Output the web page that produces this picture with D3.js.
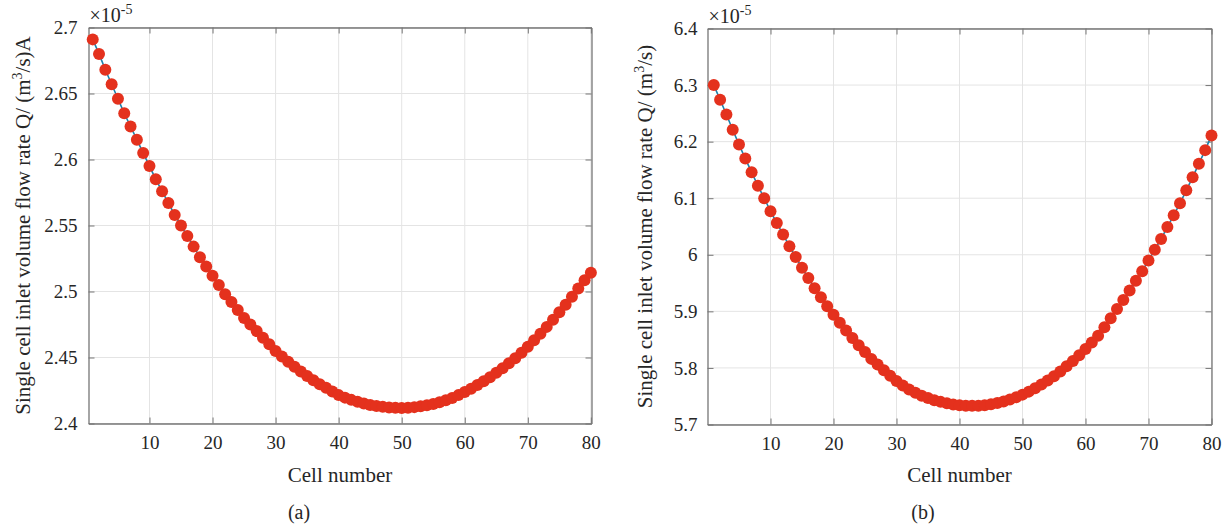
<!DOCTYPE html>
<html>
<head>
<meta charset="utf-8">
<script src="https://cdn.jsdelivr.net/npm/d3@7"></script>
<style>
  body { margin: 0; background: #fff; }
  svg { display: block; font-family: "Liberation Serif", "DejaVu Serif", serif; }
</style>
</head>
<body>
<div id="chart"></div>
<script>
// cell numbers 1..80
var cells = d3.range(1, 81);

// flow rate, units of 1e-5 m^3/s
var flowA = [2.691, 2.680, 2.668, 2.657, 2.646, 2.635, 2.625, 2.615, 2.605, 2.595,
  2.585, 2.576, 2.567, 2.558, 2.550, 2.542, 2.534, 2.526, 2.519, 2.512,
  2.505, 2.498, 2.492, 2.486, 2.480, 2.475, 2.470, 2.465, 2.460, 2.455,
  2.4508, 2.4468, 2.4430, 2.4394, 2.4360, 2.4328, 2.4298, 2.4270, 2.4242, 2.4215,
  2.4196, 2.4179, 2.4164, 2.4151, 2.4140, 2.4132, 2.4126, 2.4121, 2.4119, 2.4118,
  2.4120, 2.4124, 2.4130, 2.4138, 2.4148, 2.4161, 2.4176, 2.4194, 2.4215, 2.4239,
  2.4264, 2.4291, 2.4320, 2.4351, 2.4384, 2.4419, 2.4456, 2.4495, 2.4536, 2.4582,
  2.4630, 2.4680, 2.4732, 2.4786, 2.4842, 2.4900, 2.4960, 2.5022, 2.5086, 2.5142];

var flowB = [6.300, 6.274, 6.248, 6.221, 6.195, 6.170, 6.146, 6.122, 6.100, 6.077,
  6.056, 6.036, 6.015, 5.996, 5.977, 5.959, 5.941, 5.925, 5.909, 5.894,
  5.880, 5.866, 5.853, 5.840, 5.828, 5.816, 5.806, 5.796, 5.786, 5.777,
  5.769, 5.762, 5.756, 5.751, 5.747, 5.743, 5.740, 5.7375, 5.7355, 5.734,
  5.7333, 5.733, 5.7333, 5.7342, 5.7358, 5.738, 5.7408, 5.7442, 5.7482, 5.7528,
  5.7581, 5.764, 5.7705, 5.7776, 5.7854, 5.7938, 5.8028, 5.8124, 5.8226, 5.8334,
  5.8449, 5.857, 5.872, 5.888, 5.904, 5.920, 5.937, 5.954, 5.971, 5.990,
  6.009, 6.028, 6.049, 6.070, 6.091, 6.114, 6.137, 6.161, 6.185, 6.211];

var xTicks = [10, 20, 30, 40, 50, 60, 70, 80];
var yTicksA = [2.4, 2.45, 2.5, 2.55, 2.6, 2.65, 2.7];
var yTicksB = [5.7, 5.8, 5.9, 6, 6.1, 6.2, 6.3, 6.4];

var axisColor = '#767676';
var gridColor = '#e4e4e4';
var lineColor = '#1b82ad';
var markerColor = '#e4311d';

var svg = d3.select('#chart')
.append('svg')
.attr('width', 1231)
.attr('height', 532);

function panel(o) {
  var x = d3.scaleLinear().domain(o.xDomain).range([o.left, o.right]);
  var y = d3.scaleLinear().domain(o.yDomain).range([o.bottom, o.top]);
  var g = svg.append('g');

  // grid
  g.selectAll('line.vg')
  .data(xTicks)
  .enter()
  .append('line')
  .attr('x1', function(d) { return x(d); })
  .attr('x2', function(d) { return x(d); })
  .attr('y1', o.top)
  .attr('y2', o.bottom)
  .attr('stroke', gridColor);

  g.selectAll('line.hg')
  .data(o.yTicks)
  .enter()
  .append('line')
  .attr('x1', o.left)
  .attr('x2', o.right)
  .attr('y1', function(d) { return y(d); })
  .attr('y2', function(d) { return y(d); })
  .attr('stroke', gridColor);

  var bottom = g.append('g')
  .attr('transform', 'translate(0,' + o.bottom + ')')
  .call(d3.axisBottom(x).tickValues(xTicks).tickSizeInner(-6).tickSizeOuter(0).tickPadding(12));

  var top = g.append('g')
  .attr('transform', 'translate(0,' + o.top + ')')
  .call(d3.axisTop(x).tickValues(xTicks).tickSizeInner(-6).tickSizeOuter(0).tickFormat(''));

  var left = g.append('g')
  .attr('transform', 'translate(' + o.left + ',0)')
  .call(d3.axisLeft(y).tickValues(o.yTicks).tickSizeInner(-6).tickSizeOuter(0).tickPadding(o.yPad).tickFormat(d3.format('')));

  var right = g.append('g')
  .attr('transform', 'translate(' + o.right + ',0)')
  .call(d3.axisRight(y).tickValues(o.yTicks).tickSizeInner(-6).tickSizeOuter(0).tickFormat(''));

  [bottom, top, left, right].forEach(function(a) {
    a.select('.domain').attr('stroke', axisColor).attr('stroke-width', 1.3);
    a.selectAll('.tick line').attr('stroke', axisColor).attr('stroke-width', 1);
    a.selectAll('.tick text')
    .attr('fill', '#262626')
    .style('font-family', '"Liberation Serif", serif')
    .style('font-size', '19px');
  });

  var line = d3.line()
  .x(function(d, i) { return x(cells[i]); })
  .y(function(d) { return y(d); });

  g.append('path')
  .datum(o.values)
  .attr('d', line)
  .attr('fill', 'none')
  .attr('stroke', lineColor)
  .attr('stroke-width', 1.6);

  g.selectAll('circle')
  .data(o.values)
  .enter()
  .append('circle')
  .attr('cx', function(d, i) { return x(cells[i]); })
  .attr('cy', function(d) { return y(d); })
  .attr('r', 6)
  .attr('fill', markerColor);

  // exponent
  var ex = g.append('text')
  .attr('x', o.left + 1)
  .attr('y', o.top - 6)
  .attr('fill', '#262626')
  .style('font-size', '20px')
  .text('\u00d710');
  ex.append('tspan')
  .attr('dy', -8)
  .style('font-size', '14px')
  .text('-5');

  var yl = g.append('text')
  .attr('transform', 'translate(' + o.yLabelX + ',' + ((o.top + o.bottom) / 2) + ') rotate(-90)')
  .attr('text-anchor', 'middle')
  .attr('fill', '#262626')
  .style('font-size', '21px')
  .text('Single cell inlet volume flow rate Q/ (m');
  yl.append('tspan')
  .attr('dy', -8)
  .style('font-size', '14px')
  .text('3');
  yl.append('tspan')
  .attr('dy', 8)
  .text('/s)' + o.suffix);

  g.append('text')
  .attr('x', (o.left + o.right) / 2)
  .attr('y', 482)
  .attr('text-anchor', 'middle')
  .attr('fill', '#262626')
  .style('font-size', '21px')
  .text('Cell number');

  g.append('text')
  .attr('x', o.tagX)
  .attr('y', 519)
  .attr('text-anchor', 'middle')
  .attr('fill', '#262626')
  .style('font-size', '20px')
  .text(o.tag);
}

panel({
  left: 88.5, right: 591.5, top: 27.5, bottom: 423.5,
  xDomain: [0.33, 80.1], yDomain: [2.4, 2.7],
  yTicks: yTicksA, values: flowA, yPad: 11,
  yLabelX: 30, suffix: 'A', tag: '(a)', tagX: 299
});

panel({
  left: 707.5, right: 1211.5, top: 28.5, bottom: 424.5,
  xDomain: [0, 80], yDomain: [5.7, 6.4],
  yTicks: yTicksB, values: flowB, yPad: 10,
  yLabelX: 652, suffix: '', tag: '(b)', tagX: 923
});
</script>
</body>
</html>
